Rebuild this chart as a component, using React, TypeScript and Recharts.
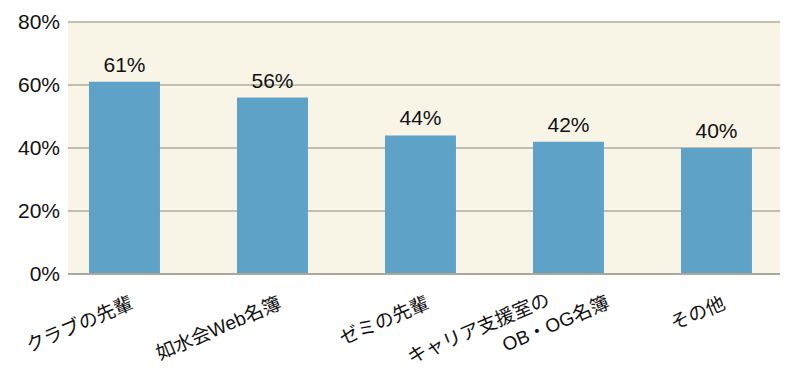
import { BarChart, Bar, XAxis, YAxis, CartesianGrid, LabelList } from "recharts";

const categories = ["クラブの先輩", "如水会Web名簿", "ゼミの先輩", "キャリア支援室の\nOB・OG名簿", "その他"];
const shares = [61, 56, 44, 42, 40];
const yTicks = [0, 20, 40, 60, 80];

const data = categories.map((name, i) => ({ name, value: shares[i] }));

const FONT = "'Liberation Sans', 'Noto Sans CJK JP', sans-serif";

function CategoryTick({ x, y, payload }: any) {
  const lines = String(payload.value).split("\n");
  const ax = x + 10;
  const ay = y + 26;
  // two-line label is spread along the slanted baseline
  const offsets =
    lines.length > 1
      ? [
          [-24, -14],
          [30, 12],
        ]
      : [[0, 0]];
  return (
    <g transform={`rotate(-23, ${ax}, ${ay})`}>
      {lines.map((line, i) => (
        <text
          key={i}
          x={ax + offsets[i][0]}
          y={ay + offsets[i][1]}
          textAnchor="end"
          fontSize={19}
          fontFamily={FONT}
          fill="#111"
        >
          {line}
        </text>
      ))}
    </g>
  );
}

export default function App() {
  return (
    <div style={{ position: "absolute", left: 0, top: 0, width: 800, height: 380, background: "#fff" }}>
      <BarChart
        width={800}
        height={380}
        data={data}
        margin={{ top: 22, right: 20, bottom: 6, left: 8 }}
        barCategoryGap="26%"
      >
        <CartesianGrid vertical={false} fill="#f8f5e7" stroke="#b0ab9e" strokeWidth={1.3} />
        <XAxis
          dataKey="name"
          interval={0}
          height={100}
          padding={{ left: -17.5, right: -10.5 }}
          tickLine={false}
          axisLine={{ stroke: "#aaa79b", strokeWidth: 2 }}
          tick={<CategoryTick />}
        />
        <YAxis
          domain={[0, 80]}
          ticks={yTicks}
          width={60}
          tickSize={0}
          tickMargin={8}
          axisLine={false}
          tickLine={false}
          tickFormatter={(v) => `${v}%`}
          tick={{ fontSize: 21, fontFamily: FONT, fill: "#111" }}
        />
        <Bar dataKey="value" fill="#5ea2c8" isAnimationActive={false}>
          <LabelList
            dataKey="value"
            position="top"
            offset={10}
            formatter={(v: any) => `${v}%`}
            style={{ fontSize: 21, fontFamily: FONT, fill: "#111" }}
          />
        </Bar>
      </BarChart>
    </div>
  );
}
